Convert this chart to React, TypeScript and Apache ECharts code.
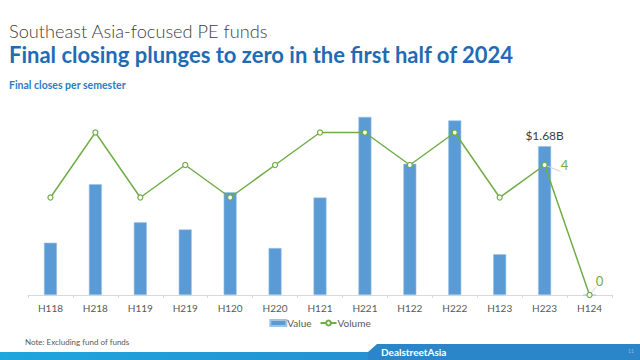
import React, { useEffect, useRef } from "react";
import * as echarts from "echarts";

const categories = ["H118", "H218", "H119", "H219", "H120", "H220", "H121", "H221", "H122", "H222", "H123", "H223", "H124"];
const valueBillions = [0.59, 1.25, 0.82, 0.74, 1.16, 0.53, 1.1, 2.01, 1.48, 1.97, 0.46, 1.68, 0];
const volumes = [3, 5, 3, 4, 3, 4, 5, 5, 4, 5, 3, 4, 0];

const BLUE = "#5b9bd5";
const GREEN = "#70ad47";
const FONT = "Lato, 'Open Sans', sans-serif";

export default function App() {
  const ref = useRef<HTMLDivElement>(null);
  useEffect(() => {
    if (!ref.current) return;
    const chart = echarts.init(ref.current, undefined, { renderer: "svg" });
    const lastValueIdx = 11;
    chart.setOption({
      animation: false,
      backgroundColor: "#ffffff",
      textStyle: { fontFamily: FONT },
      title: [
        {
          text: "Southeast Asia-focused PE funds",
          left: 4,
          top: 17,
          textStyle: { fontFamily: FONT, fontWeight: 300, fontSize: 18.2, color: "#404040" },
        },
        {
          text: "Final closing plunges to zero in the first half of 2024",
          left: 4,
          top: 38,
          textStyle: { fontFamily: FONT, fontWeight: "bold", fontSize: 22, color: "#1f6cb5" },
        },
        {
          text: "Final closes per semester",
          left: 4,
          top: 74,
          textStyle: { fontFamily: FONT, fontWeight: "bold", fontSize: 10.5, color: "#2a7cc7" },
        },
        {
          text: "Note: Excluding fund of funds",
          left: 20,
          top: 333,
          textStyle: { fontFamily: FONT, fontWeight: "normal", fontSize: 8, color: "#595959" },
        },
      ],
      legend: {
        bottom: 27,
        left: "center",
        itemGap: 8,
        itemWidth: 16,
        itemHeight: 6,
        textStyle: { fontFamily: FONT, fontSize: 10, color: "#595959", padding: [0, 0, 0, -4] },
        data: [
          { name: "Value", icon: "rect" },
          { name: "Volume" },
        ],
      },
      grid: { left: 28, right: 28, top: 100, bottom: 65 },
      xAxis: {
        type: "category",
        data: categories,
        axisLine: { lineStyle: { color: "#d9d9d9" } },
        axisTick: { show: true, length: 3, lineStyle: { color: "#d9d9d9" } },
        axisLabel: { color: "#595959", fontSize: 10, fontFamily: FONT, margin: 8 },
      },
      yAxis: [
        { type: "value", min: 0, max: 2.2, show: false, splitLine: { show: false } },
        { type: "value", min: 0, max: 6, show: false, splitLine: { show: false } },
      ],
      series: [
        {
          name: "Value",
          type: "bar",
          yAxisIndex: 0,
          barWidth: 13,
          data: valueBillions.map((v, i) => ({
            value: v,
            label:
              i === lastValueIdx
                ? {
                    show: true,
                    position: "top",
                    distance: 5,
                    formatter: () => "$" + v.toFixed(2) + "B",
                    color: "#404040",
                    fontSize: 12,
                    fontFamily: FONT,
                  }
                : { show: false },
          })),
          itemStyle: { color: BLUE, borderColor: "#9dc3e6", borderWidth: 0.6 },
        },
        {
          name: "Volume",
          type: "line",
          yAxisIndex: 1,
          symbol: "circle",
          symbolSize: 5,
          lineStyle: { color: GREEN, width: 1.5 },
          itemStyle: { color: "#ffffff", borderColor: GREEN, borderWidth: 1.2 },
          labelLine: { show: true, lineStyle: { color: "#d0d0d0", width: 1 } },
          data: volumes.map((v, i) => {
            if (i === 11) {
              return {
                value: v,
                label: { show: true, position: "right", distance: 13, color: GREEN, fontSize: 13, fontFamily: FONT },
              };
            }
            if (i === 12) {
              return {
                value: v,
                label: { show: true, position: "right", distance: 3, offset: [0, -14], color: GREEN, fontSize: 13, fontFamily: FONT },
              };
            }
            return { value: v };
          }),
        },
      ],
      graphic: [
        {
          type: "rect",
          shape: { x: 0, y: 352, width: 640, height: 8 },
          style: {
            fill: new echarts.graphic.LinearGradient(0, 0, 1, 0, [
              { offset: 0, color: "#1ea6de" },
              { offset: 0.6, color: "#2590d2" },
              { offset: 1, color: "#2a84c6" },
            ]),
          },
          silent: true,
        },
        {
          type: "polygon",
          shape: { points: [[377, 344], [640, 344], [640, 360], [368, 360], [368, 352]] },
          style: { fill: "#2a86c8" },
          silent: true,
        },
        {
          type: "text",
          left: 381,
          top: 347,
          style: { text: "DealstreetAsia", fill: "#ffffff", font: "bold 10px " + FONT },
          silent: true,
        },
        {
          type: "text",
          left: 628,
          top: 348,
          style: { text: "11", fill: "#8fbfe6", font: "5px " + FONT },
          silent: true,
        },
      ],
    });
    return () => chart.dispose();
  }, []);
  return <div ref={ref} style={{ width: 640, height: 360, position: "fixed", left: 0, top: 0 }} />;
}
